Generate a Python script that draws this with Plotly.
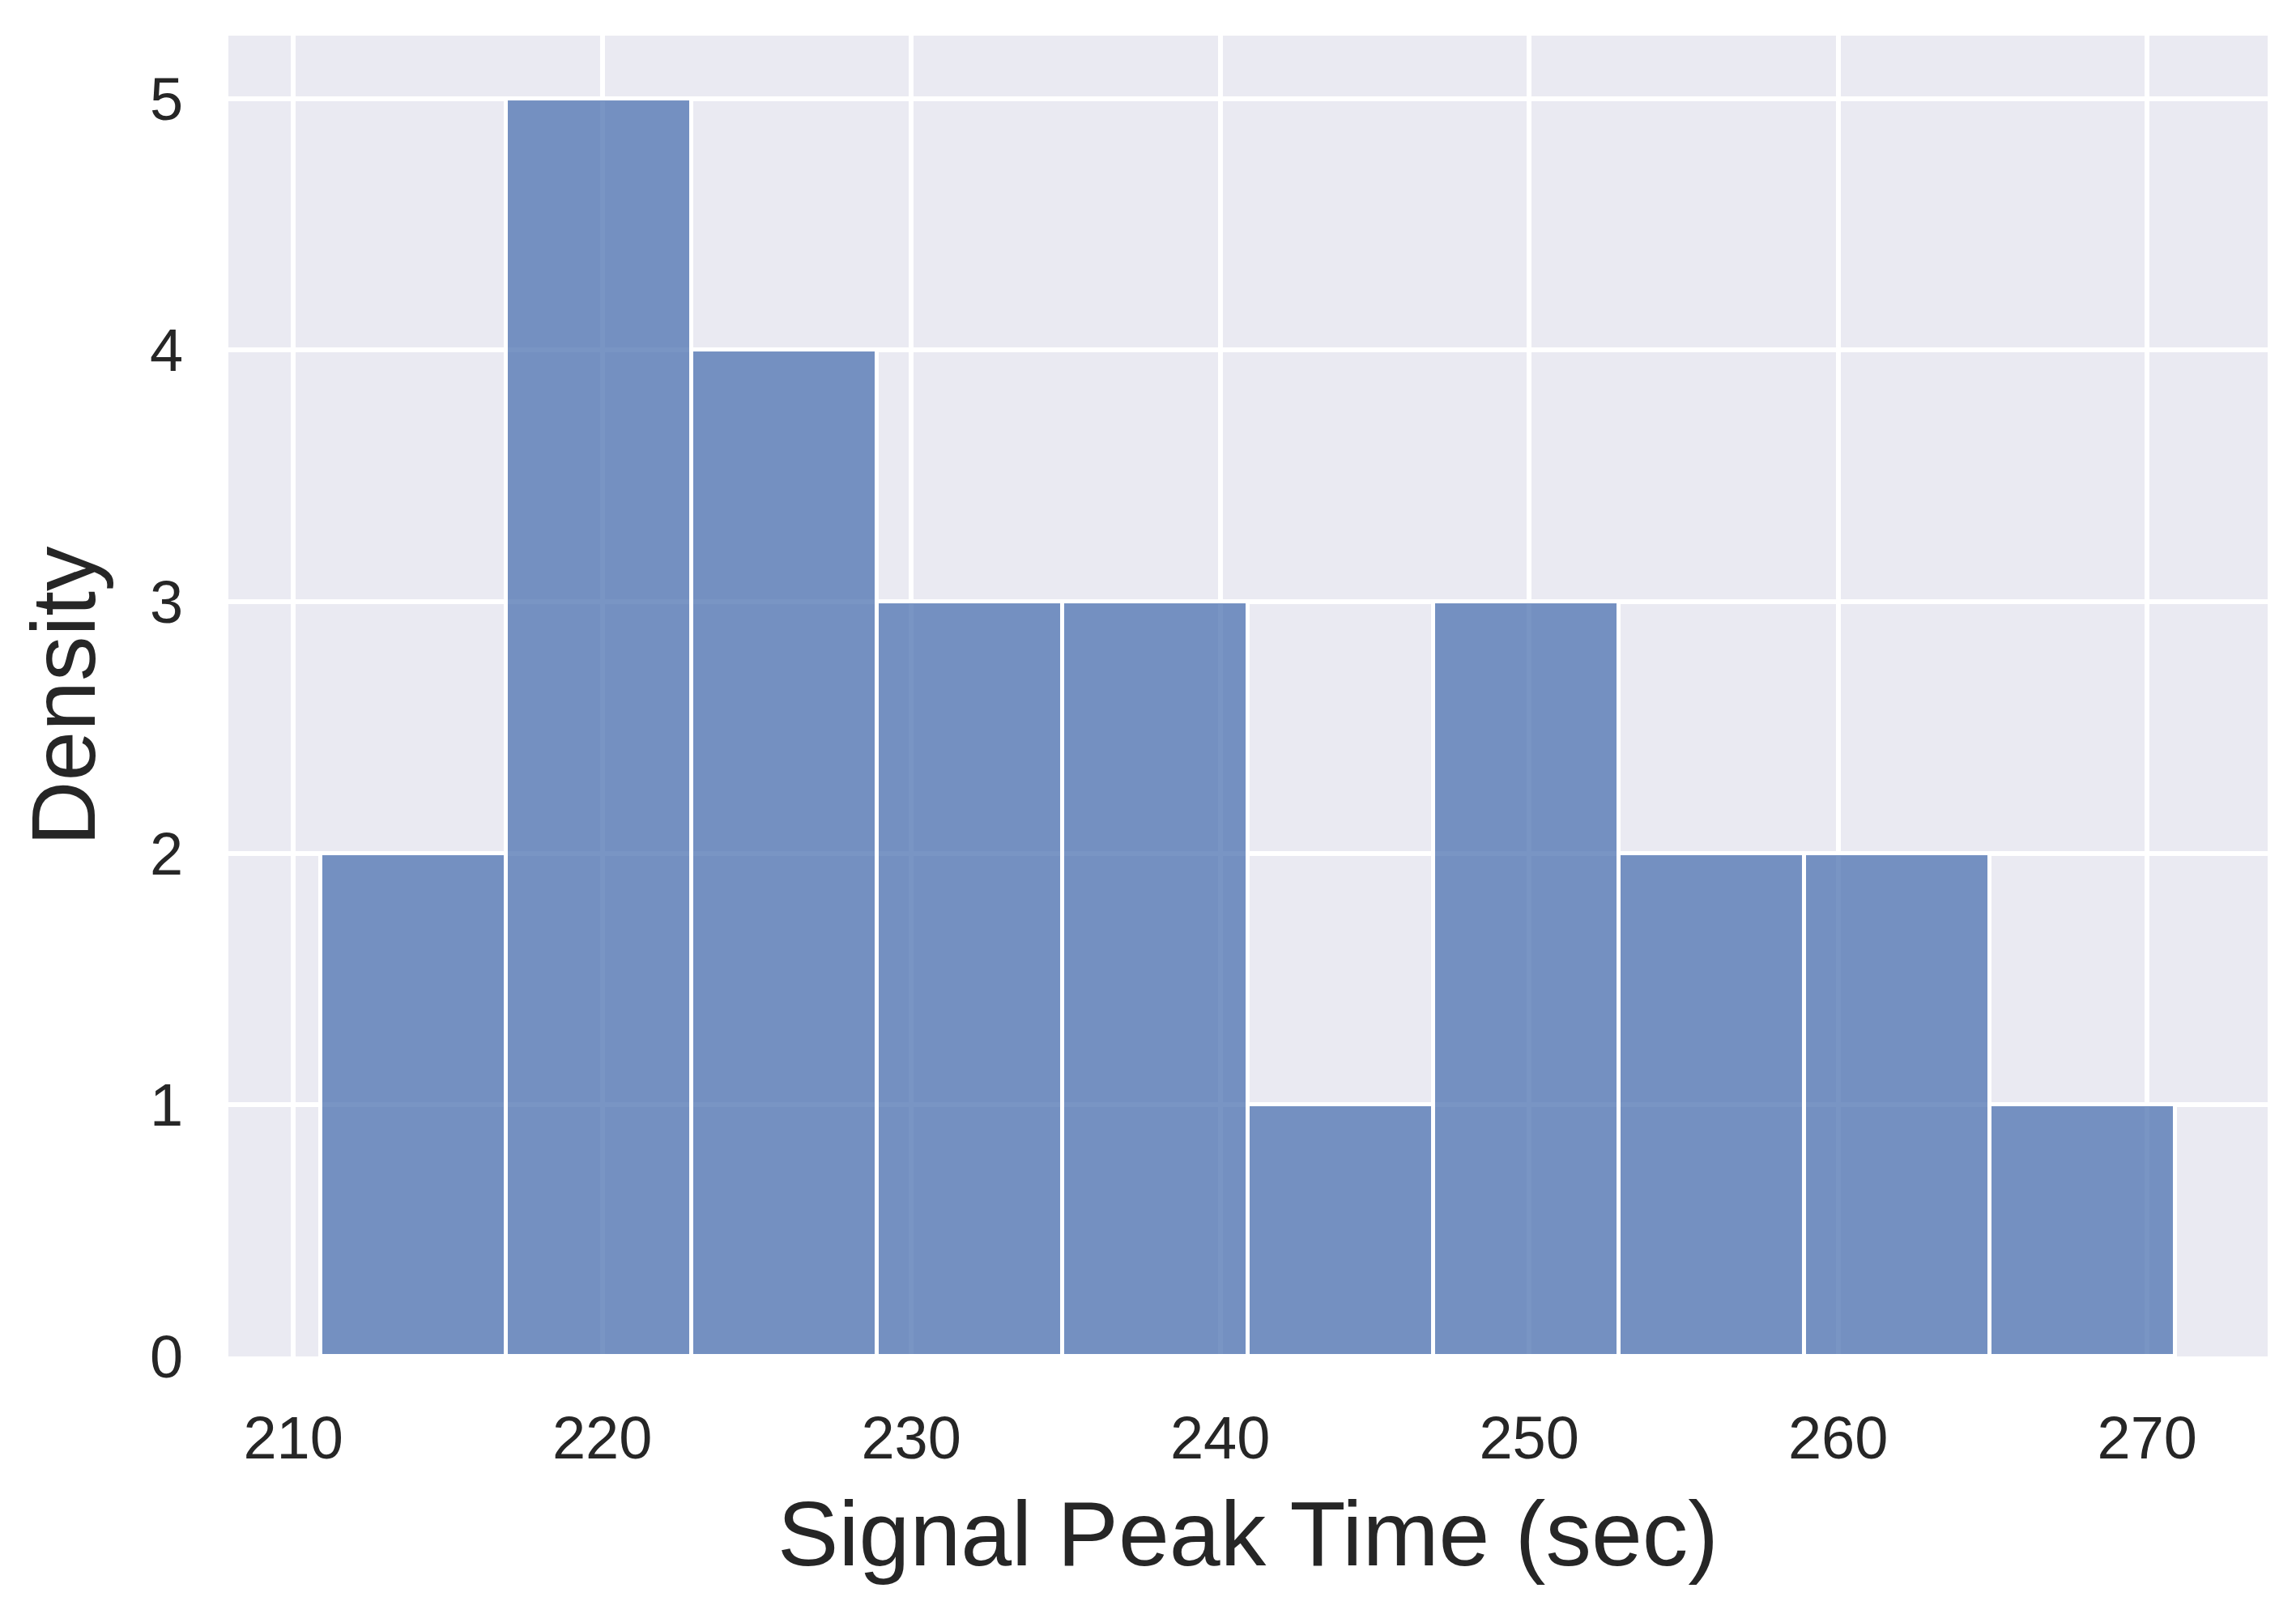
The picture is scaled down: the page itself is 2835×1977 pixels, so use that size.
import plotly.graph_objects as go

# Histogram data
bin_left = [210.9, 216.9, 222.9, 228.9, 234.9, 240.9, 246.9, 252.9, 258.9, 264.9]
bin_width = 6.0
counts = [2, 5, 4, 3, 3, 1, 3, 2, 2, 1]

x_ticks = [210, 220, 230, 240, 250, 260, 270]
y_ticks = [0, 1, 2, 3, 4, 5]

x_label = "Signal Peak Time (sec)"
y_label = "Density"

centers = [b + bin_width / 2 for b in bin_left]
x_min = bin_left[0]
x_max = bin_left[-1] + bin_width
pad = 0.05 * (x_max - x_min)

FONT = "Liberation Sans, Arial, sans-serif"

fig = go.Figure(
    go.Bar(
        x=centers,
        y=counts,
        width=bin_width,
        marker=dict(color="rgba(76,114,176,0.75)", line=dict(color="white", width=5)),
    )
)

# the page body adds an 8px offset; compensate in the margins
fig.update_layout(
    width=2835,
    height=1977,
    margin=dict(l=274, r=43, t=36, b=310, autoexpand=False),
    paper_bgcolor="white",
    plot_bgcolor="#EAEAF2",
    showlegend=False,
    bargap=0,
    font=dict(family=FONT, color="#262626"),
)

fig.update_xaxes(
    range=[x_min - pad, x_max + pad],
    tickvals=x_ticks,
    ticktext=[str(t) for t in x_ticks],
    showgrid=True,
    gridcolor="white",
    gridwidth=6,
    zeroline=False,
    showline=False,
    automargin=False,
    ticks="outside",
    ticklen=36,
    tickcolor="rgba(0,0,0,0)",
    tickfont=dict(size=74, family=FONT, color="#262626"),
    title=dict(text=x_label, font=dict(size=113, family=FONT, color="#262626"), standoff=38),
)

fig.update_yaxes(
    range=[0, 5.25],
    tickvals=y_ticks,
    ticktext=[str(t) for t in y_ticks],
    showgrid=True,
    gridcolor="white",
    gridwidth=6,
    zeroline=False,
    showline=False,
    automargin=False,
    ticks="outside",
    ticklen=40,
    tickcolor="rgba(0,0,0,0)",
    tickfont=dict(size=74, family=FONT, color="#262626"),
    title=dict(text=y_label, font=dict(size=111, family=FONT, color="#262626"), standoff=30),
)

fig.write_html("out.html")
